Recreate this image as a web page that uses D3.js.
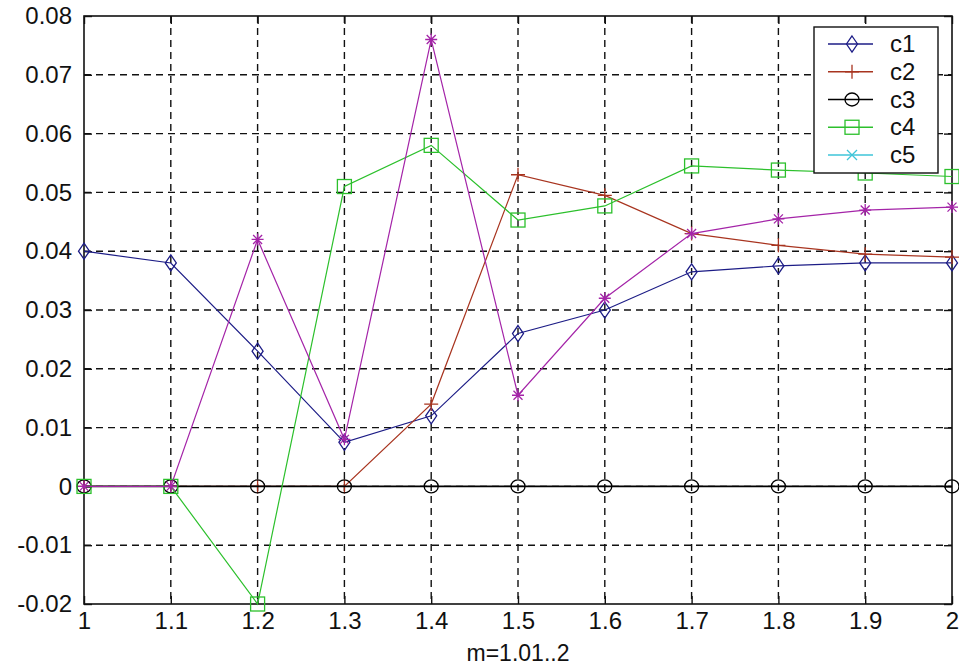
<!DOCTYPE html>
<html>
<head>
<meta charset="utf-8">
<script src="https://cdn.jsdelivr.net/npm/d3@7"></script>
<style>
  body { margin: 0; background: #fff; }
  svg { display: block; font-family: "Liberation Sans", Arial, sans-serif; }
</style>
</head>
<body>
<svg id="chart"></svg>
<script>
// data
const mValues = [1, 1.1, 1.2, 1.3, 1.4, 1.5, 1.6, 1.7, 1.8, 1.9, 2];
const c1 = [0.040, 0.038, 0.023, 0.0075, 0.012, 0.026, 0.030, 0.0365, 0.0375, 0.038, 0.038];
const c2 = [0, 0, 0, 0, 0.014, 0.053, 0.0495, 0.043, 0.041, 0.0395, 0.039];
const c3 = [0, 0, 0, 0, 0, 0, 0, 0, 0, 0, 0];
const c4 = [0, 0, -0.02, 0.051, 0.058, 0.0453, 0.0477, 0.0545, 0.0538, 0.0533, 0.0527];
const c5 = [0, 0, 0.042, 0.008, 0.076, 0.0155, 0.032, 0.043, 0.0455, 0.047, 0.0475];
const seriesNames = ["c1", "c2", "c3", "c4", "c5"];
const xTicks = [1, 1.1, 1.2, 1.3, 1.4, 1.5, 1.6, 1.7, 1.8, 1.9, 2];
const yTicks = [-0.02, -0.01, 0, 0.01, 0.02, 0.03, 0.04, 0.05, 0.06, 0.07, 0.08];
const xLabel = "m=1.01..2";

const width = 959, height = 667;
const margin = {top: 16, right: 7, bottom: 63, left: 84};

const svg = d3.select("#chart").attr("width", width).attr("height", height);

const x = d3.scaleLinear().domain([1, 2]).range([margin.left, width - margin.right]);
const y = d3.scaleLinear().domain([-0.02, 0.08]).range([height - margin.bottom, margin.top]);

// line / marker style per series
const styles = [
  {color: "#1c1c86", marker: "diamond"},
  {color: "#a8341f", marker: "plus"},
  {color: "#000000", marker: "circle"},
  {color: "#2cc02c", marker: "square"},
  {color: "#a424a8", marker: "star"}
];
const legendStyles = styles.map((s, i) => i === 4 ? {color: "#3ec4d8", marker: "cross"} : s);

const series = [c1, c2, c3, c4, c5].map((vals, i) => ({
  name: seriesNames[i],
  points: vals.map((v, j) => ({m: mValues[j], v: v})),
  style: styles[i]
}));

// grid
const grid = svg.append("g").attr("stroke", "#111").attr("stroke-width", 1.4)
  .attr("stroke-dasharray", "7,5");
grid.selectAll("line.gx").data(xTicks.slice(1, -1)).join("line")
  .attr("x1", d => x(d)).attr("x2", d => x(d))
  .attr("y1", margin.top).attr("y2", height - margin.bottom);
grid.selectAll("line.gy").data(yTicks.slice(1, -1)).join("line")
  .attr("x1", margin.left).attr("x2", width - margin.right)
  .attr("y1", d => y(d)).attr("y2", d => y(d));

// axes (ticks point inward, mirrored on top/right)
const fmtY = d => d === 0 ? "0" : d.toFixed(2);
const fmtX = d => d3.format("~g")(d);

svg.append("g").attr("transform", `translate(0,${height - margin.bottom})`)
  .call(d3.axisBottom(x).tickValues(xTicks).tickFormat(fmtX).tickSizeInner(-8).tickSizeOuter(0).tickPadding(8));
svg.append("g").attr("transform", `translate(0,${margin.top})`)
  .call(d3.axisTop(x).tickValues(xTicks).tickFormat("").tickSizeInner(-8).tickSizeOuter(0));
svg.append("g").attr("transform", `translate(${margin.left},0)`)
  .call(d3.axisLeft(y).tickValues(yTicks).tickFormat(fmtY).tickSizeInner(-8).tickSizeOuter(0).tickPadding(12));
svg.append("g").attr("transform", `translate(${width - margin.right},0)`)
  .call(d3.axisRight(y).tickValues(yTicks).tickFormat("").tickSizeInner(-8).tickSizeOuter(0));

svg.selectAll(".domain").remove();
svg.selectAll(".tick line").attr("stroke", "#111").attr("stroke-width", 1.4);
svg.selectAll(".tick text").attr("fill", "#111").style("font-size", "24px")
  .style("font-family", "'Liberation Sans', Arial, sans-serif");

svg.append("rect")
  .attr("x", margin.left).attr("y", margin.top)
  .attr("width", width - margin.left - margin.right)
  .attr("height", height - margin.top - margin.bottom)
  .attr("fill", "none").attr("stroke", "#111").attr("stroke-width", 1.6);

// x label
svg.append("text")
  .attr("x", (margin.left + width - margin.right) / 2)
  .attr("y", 661)
  .attr("text-anchor", "middle")
  .style("font-size", "23px")
  .attr("fill", "#111")
  .text(xLabel);

// marker drawing
function drawMarker(g, type, color) {
  g.attr("fill", "none").attr("stroke", color).attr("stroke-width", 1.3);
  if (type === "diamond") {
    g.append("path").attr("d", "M0,-8L5.5,0L0,8L-5.5,0Z");
  } else if (type === "plus") {
    g.append("path").attr("d", "M-7,0H7M0,-7V7");
  } else if (type === "circle") {
    g.append("ellipse").attr("rx", 7).attr("ry", 6.5);
  } else if (type === "square") {
    g.append("rect").attr("x", -7).attr("y", -7).attr("width", 14).attr("height", 14);
  } else if (type === "star") {
    g.append("path").attr("d", "M-6,0H6M0,-6V6M-4.5,-4.5L4.5,4.5M-4.5,4.5L4.5,-4.5");
  } else if (type === "cross") {
    g.append("path").attr("d", "M-5,-5L5,5M-5,5L5,-5");
  }
}

const line = d3.line().x(d => x(d.m)).y(d => y(d.v));

const plot = svg.append("g");
series.forEach(s => {
  const g = plot.append("g");
  g.append("path").datum(s.points)
    .attr("d", line)
    .attr("fill", "none")
    .attr("stroke", s.style.color)
    .attr("stroke-width", s.style.marker === "circle" ? 1.6 : 1.2);
  g.selectAll("g.mk").data(s.points).join("g")
    .attr("class", "mk")
    .attr("transform", d => `translate(${x(d.m)},${y(d.v)})`)
    .each(function() { drawMarker(d3.select(this), s.style.marker, s.style.color); });
});

// legend
const legend = svg.append("g").attr("transform", "translate(814,27)");
legend.append("rect").attr("width", 124).attr("height", 146)
  .attr("fill", "#fff").attr("stroke", "#111").attr("stroke-width", 1.4);
const rowY = d3.scalePoint().domain(seriesNames).range([17, 128]);
seriesNames.forEach((name, i) => {
  const st = legendStyles[i];
  const row = legend.append("g").attr("transform", `translate(0,${rowY(name)})`);
  row.append("line").attr("x1", 14).attr("x2", 59)
    .attr("stroke", st.color).attr("stroke-width", 1.3);
  drawMarker(row.append("g").attr("transform", "translate(38,0)"), st.marker, st.color);
  row.append("text").attr("x", 76).attr("y", 8)
    .style("font-size", "24px").attr("fill", "#111").text(name);
});
</script>
</body>
</html>
